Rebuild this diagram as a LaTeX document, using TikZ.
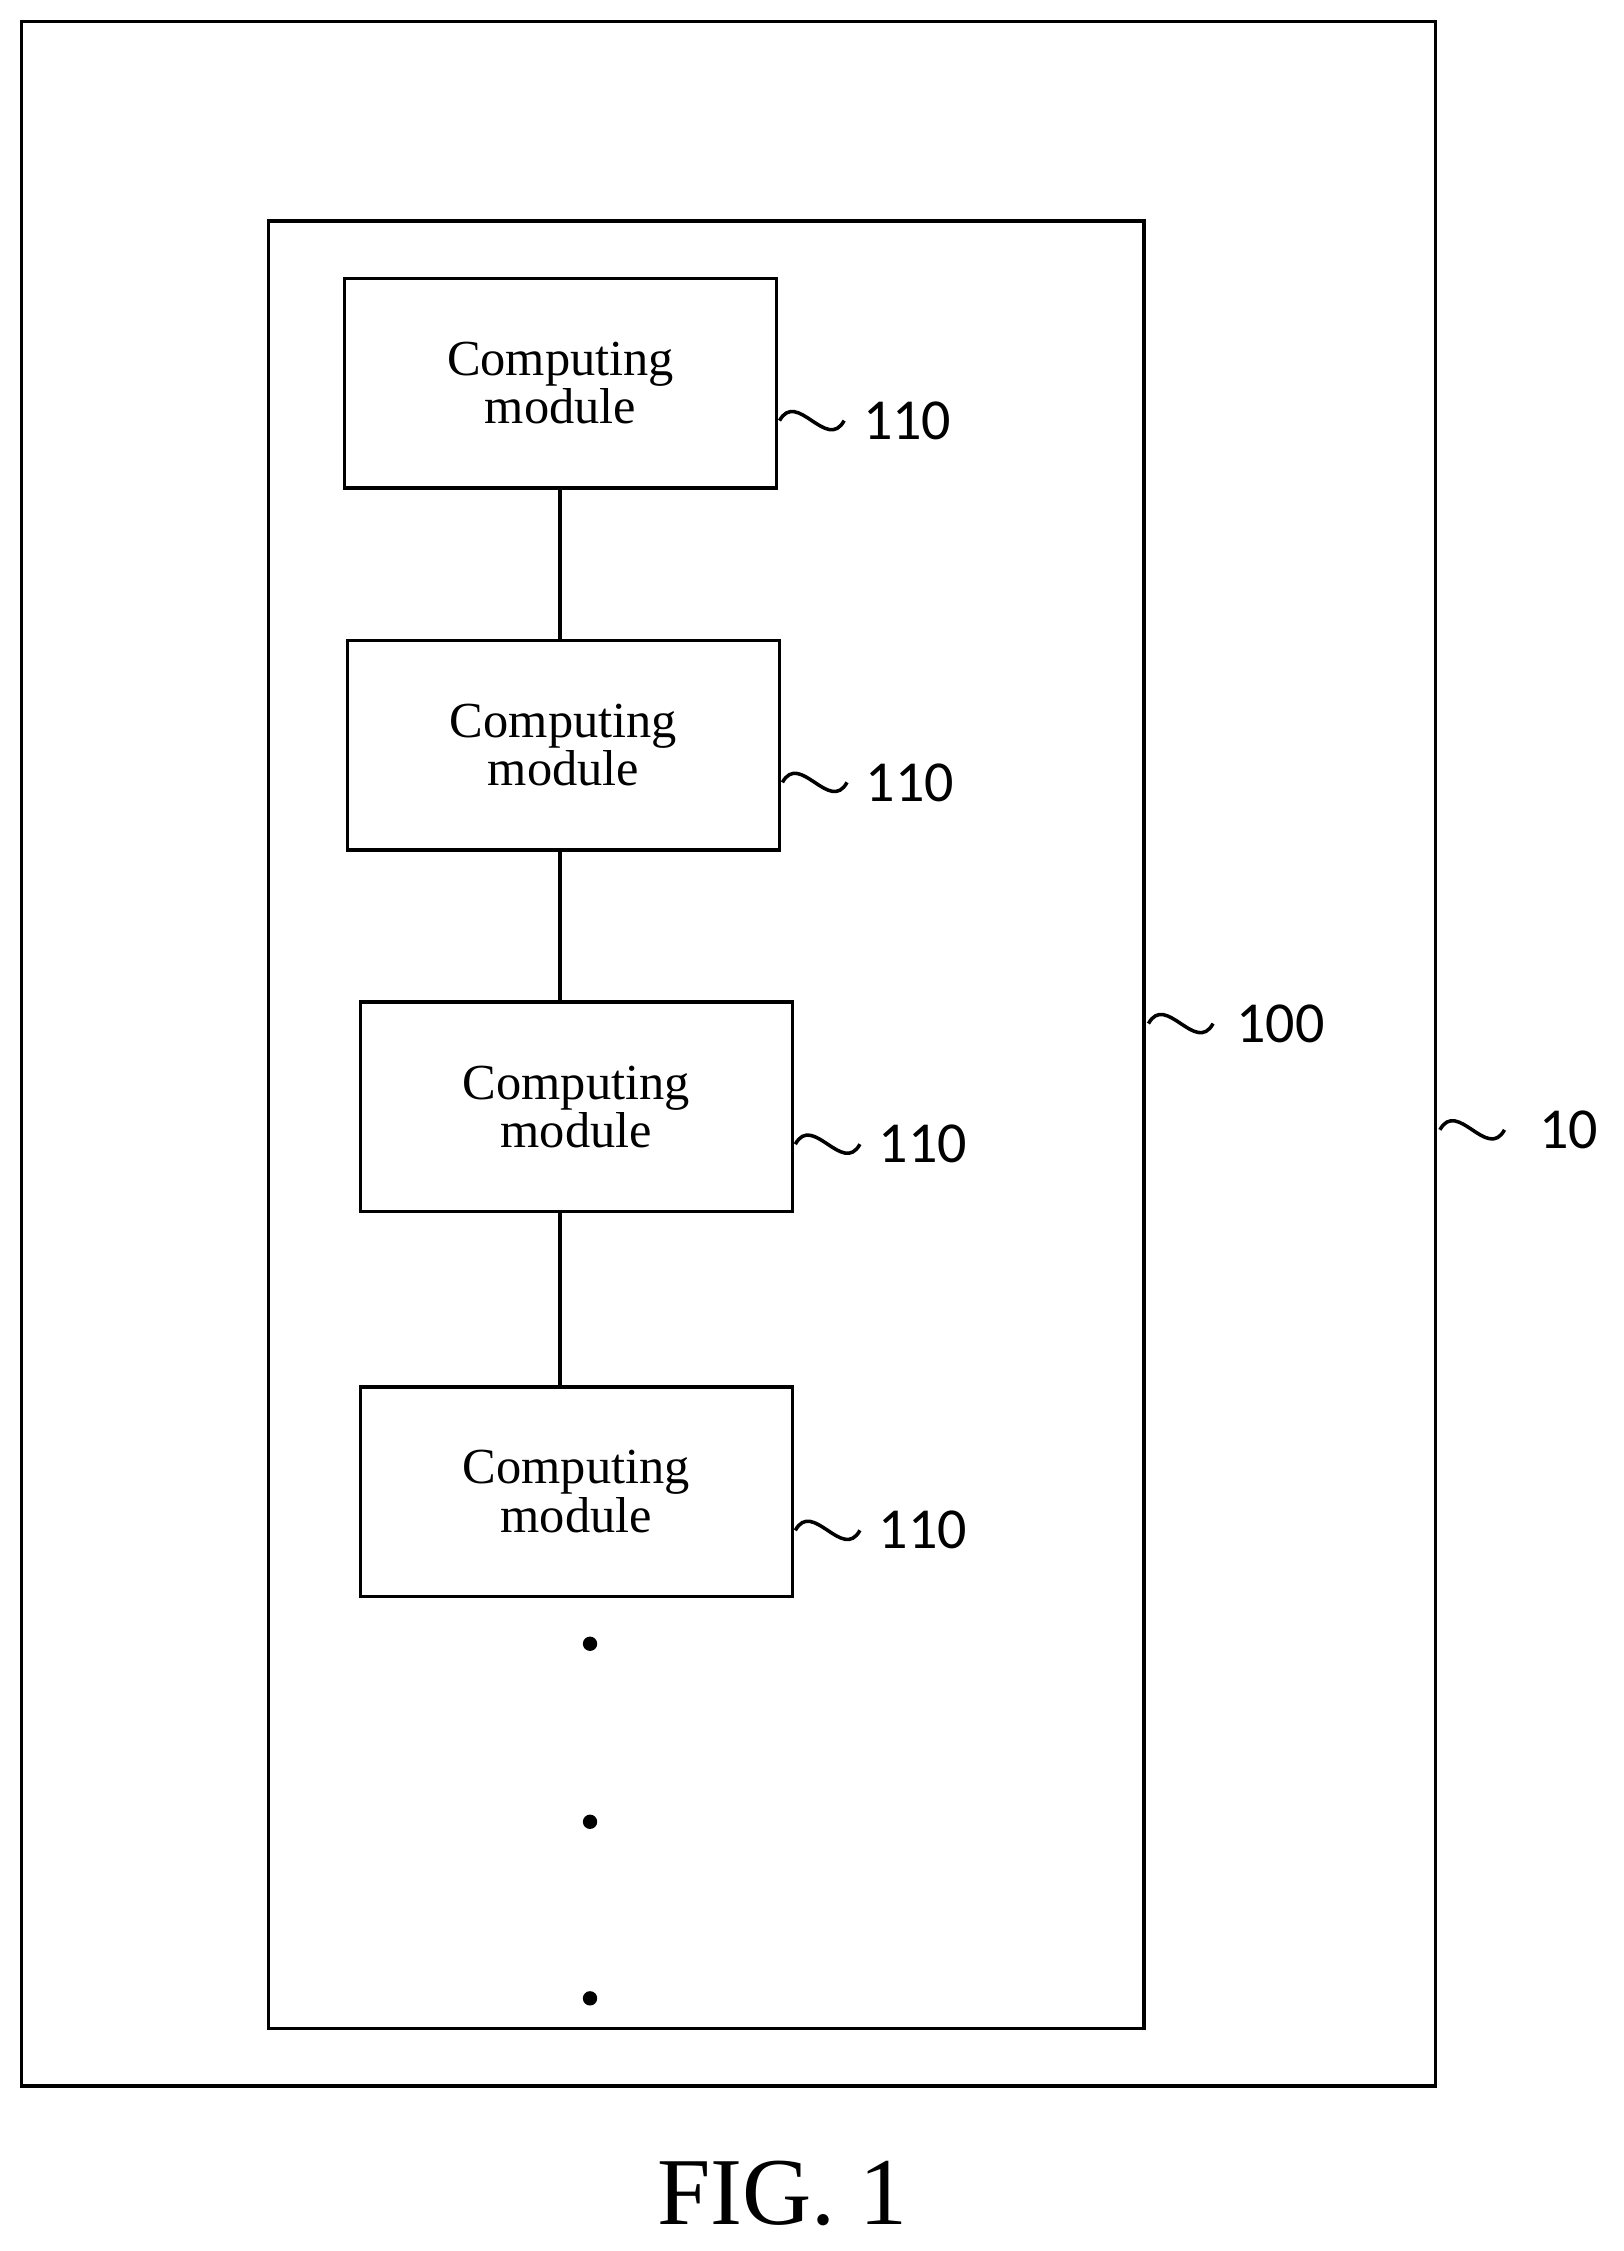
\documentclass[tikz,border=0pt]{standalone}
\usepackage{fontspec}
\setmainfont{Liberation Serif}
\newfontfamily\labelfont{Carlito}
\usetikzlibrary{positioning}

\newcommand{\drawWave}[2]{\draw[line width=1.4pt] (#1,#2) .. controls (#1+12,#2-22) and (#1+33,#2+22) .. (#1+45,#2);}

\tikzset{
    module/.style={draw, line width=1.4pt, minimum width=6.02cm, minimum height=2.92cm, align=center, font=\fontsize{20}{17}\selectfont},
    refnum/.style={anchor=west, font=\labelfont\fontsize{23}{23}\selectfont}
}

\begin{document}
\begin{tikzpicture}[x=0.02cm, y=-0.02cm]
        \useasboundingbox (0,0) rectangle (1131,1568);

        % Frames
        \draw[line width=1.5pt] (15,15) rectangle (1000,1453);
        \draw[line width=1.5pt] (187,154) rectangle (797,1413);

        % Computing modules
        \node[module] (m1) at (390.5,267) {Computing\\module};
        \node[module] (m2) at (392.5,519) {Computing\\module};
        \node[module] (m3) at (401.5,771) {Computing\\module};
        \node[module] (m4) at (401.5,1039) {Computing\\module};

        \draw[line width=1.4pt] (390,0 |- m1.south) -- (390,0 |- m2.north);
        \draw[line width=1.4pt] (390,0 |- m2.south) -- (390,0 |- m3.north);
        \draw[line width=1.4pt] (390,0 |- m3.south) -- (390,0 |- m4.north);

        \foreach \y in {1145,1269,1392}
            \fill (411,\y) circle (5);

        % Reference numerals
        \drawWave{543}{293}
        \node[refnum] (l1) at (595,293) {110};
        \drawWave{545}{545}
        \node[refnum] (l2) at (597,545) {110};
        \drawWave{554}{797}
        \node[refnum] (l3) at (606,797) {110};
        \drawWave{554}{1066}
        \node[refnum] (l4) at (606,1066) {110};
        \drawWave{800}{713}
        \node[refnum] (l5) at (855,713) {100};
        \drawWave{1003}{787}
        \node[refnum] (l6) at (1066,787) {10};

        \node[font=\fontsize{38}{38}\selectfont] (fig) at (545,1528) {FIG. 1};

    \end{tikzpicture}
\end{document}
